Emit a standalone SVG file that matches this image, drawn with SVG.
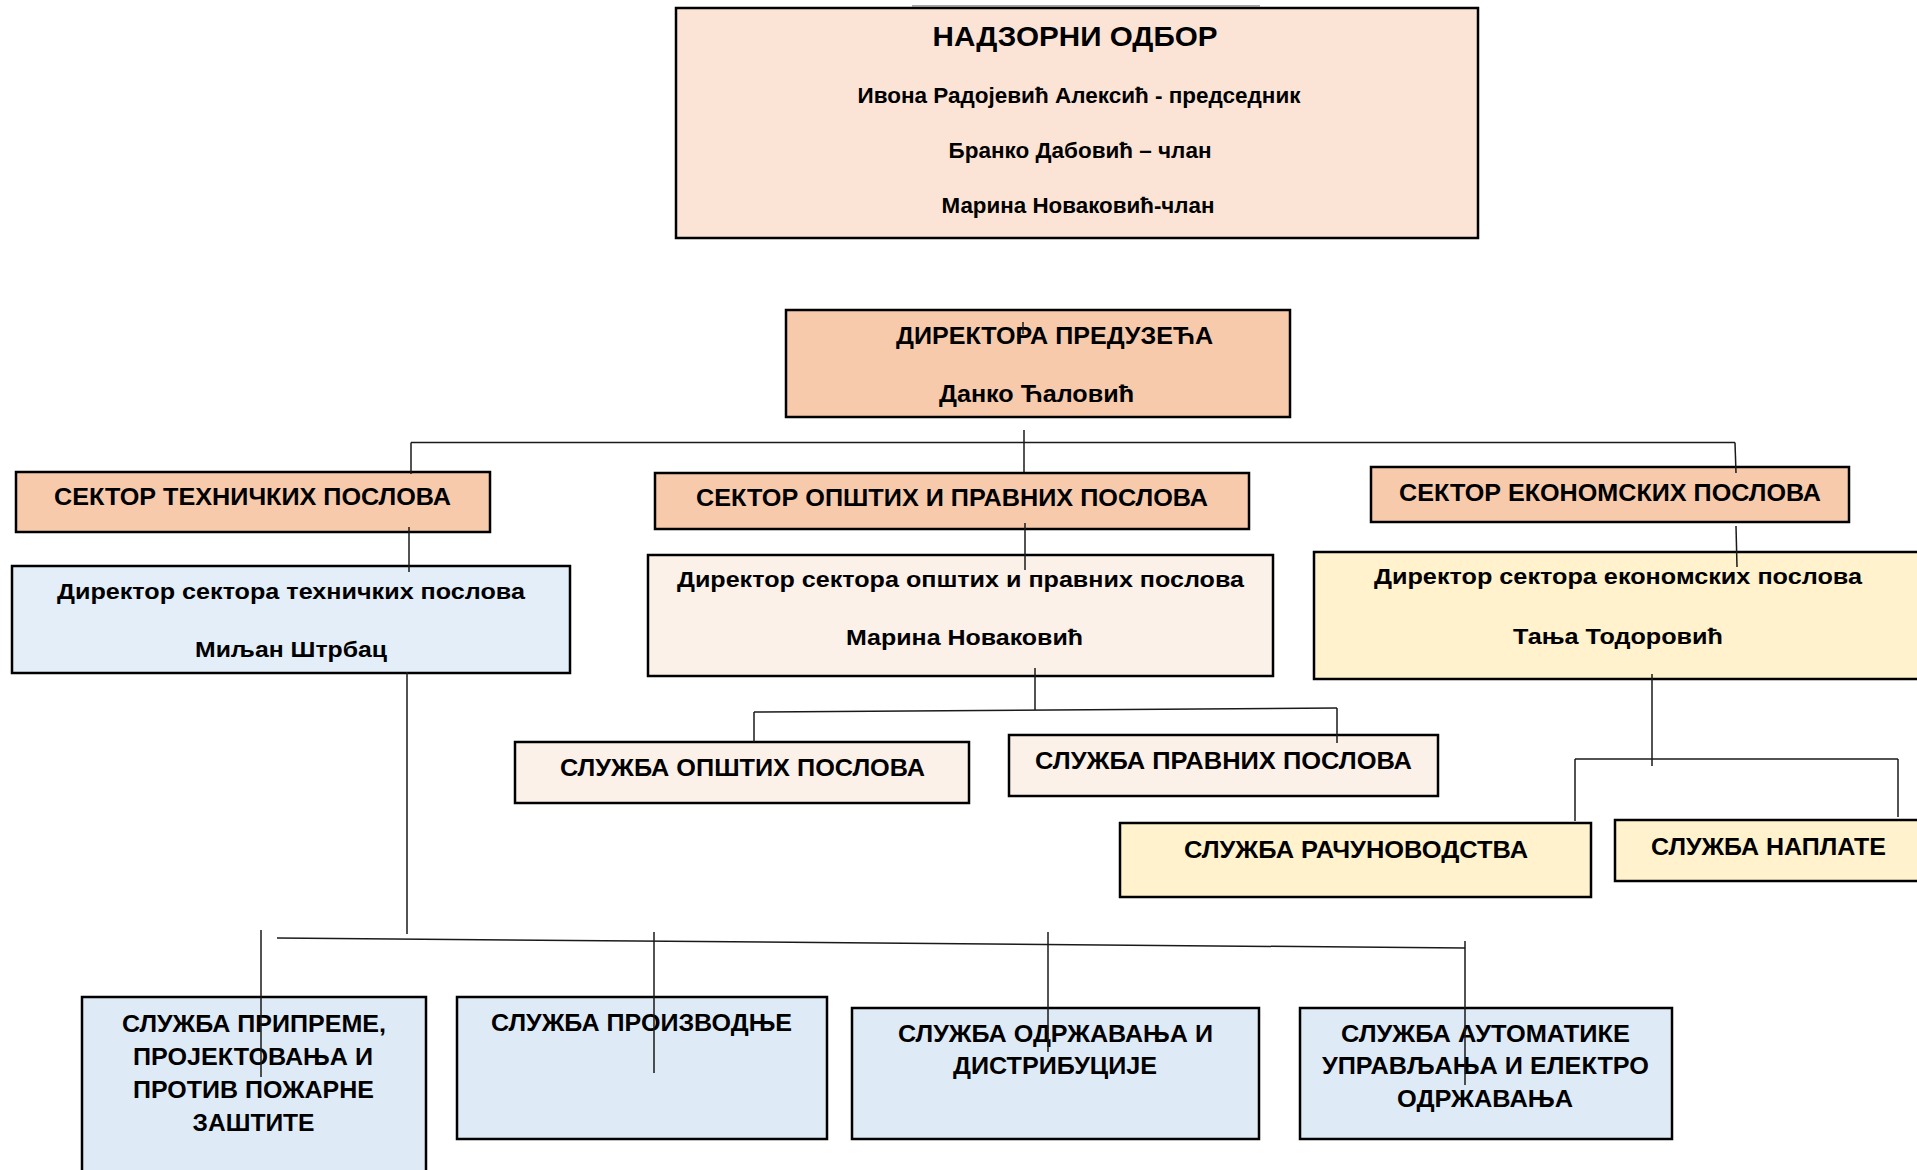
<svg xmlns="http://www.w3.org/2000/svg" width="1917" height="1170" viewBox="0 0 1917 1170">
<style>
.box{stroke:#000;stroke-width:2.5}
.peach{fill:#FBE4D5}
.orange{fill:#F7CAAC}
.blue1{fill:#E3EEF8}
.blue2{fill:#DEEAF6}
.cream{fill:#FCF1E9}
.yellow{fill:#FFF2CC}
text{font-family:"Liberation Sans Narrow","Liberation Sans",Arial,sans-serif;font-weight:bold;fill:#000;text-anchor:middle}
.t28{font-size:28px}
.t24{font-size:24px}
.t22{font-size:22.5px}
.t21{font-size:21.5px}
.conn path{fill:none;stroke:#1a1a1a;stroke-width:1.5}
</style>
<rect x="0" y="0" width="1917" height="1170" fill="#fff"/>

<g id="nadzorni-odbor">
<rect class="box peach" x="676" y="8" width="802" height="230"/>
<line x1="912" y1="6" x2="1260" y2="6" stroke="#888" stroke-width="1.5"/>
<text class="t28" x="1075" y="46" textLength="285" lengthAdjust="spacingAndGlyphs">НАДЗОРНИ ОДБОР</text>
<text class="t21" x="1079" y="103" textLength="443" lengthAdjust="spacingAndGlyphs">Ивона Радојевић Алексић - председник</text>
<text class="t21" x="1080" y="158" textLength="263" lengthAdjust="spacingAndGlyphs">Бранко Дабовић – члан</text>
<text class="t21" x="1078" y="213" textLength="273" lengthAdjust="spacingAndGlyphs">Марина Новаковић-члан</text>
</g>

<g id="direktor">
<rect class="box orange" x="786" y="310" width="504" height="107"/>
<text class="t24" x="1054.5" y="344" textLength="317" lengthAdjust="spacingAndGlyphs">ДИРЕКТОРА ПРЕДУЗЕЋА</text>
<text class="t24" x="1036.5" y="402" textLength="195" lengthAdjust="spacingAndGlyphs">Данко Ћаловић</text>
</g>

<g id="sektor-tehnickih">
<rect class="box orange" x="16" y="472" width="474" height="60"/>
<text class="t24" x="252.5" y="504.5" textLength="397" lengthAdjust="spacingAndGlyphs">СЕКТОР ТЕХНИЧКИХ ПОСЛОВА</text>
</g>

<g id="sektor-opstih">
<rect class="box orange" x="655" y="473" width="594" height="56"/>
<text class="t24" x="952" y="506" textLength="512" lengthAdjust="spacingAndGlyphs">СЕКТОР ОПШТИХ И ПРАВНИХ ПОСЛОВА</text>
</g>

<g id="sektor-ekonomskih">
<rect class="box orange" x="1371" y="467" width="478" height="55"/>
<text class="t24" x="1610" y="500.5" textLength="422" lengthAdjust="spacingAndGlyphs">СЕКТОР ЕКОНОМСКИХ ПОСЛОВА</text>
</g>

<g id="direktor-tehnickih">
<rect class="box blue1" x="12" y="566" width="558" height="107"/>
<text class="t22" x="291" y="599" textLength="468" lengthAdjust="spacingAndGlyphs">Директор сектора техничких послова</text>
<text class="t22" x="291" y="656.5" textLength="192" lengthAdjust="spacingAndGlyphs">Миљан Штрбац</text>
</g>

<g id="direktor-opstih">
<rect class="box cream" x="648" y="555" width="625" height="121"/>
<text class="t22" x="960.5" y="586.5" textLength="567" lengthAdjust="spacingAndGlyphs">Директор сектора општих и правних послова</text>
<text class="t22" x="964.5" y="644.5" textLength="237" lengthAdjust="spacingAndGlyphs">Марина Новаковић</text>
</g>

<g id="direktor-ekonomskih">
<rect class="box yellow" x="1314" y="552" width="620" height="127"/>
<text class="t22" x="1618" y="584" textLength="488" lengthAdjust="spacingAndGlyphs">Директор сектора економских послова</text>
<text class="t22" x="1618" y="643.5" textLength="210" lengthAdjust="spacingAndGlyphs">Тања Тодоровић</text>
</g>

<g id="sluzba-opstih">
<rect class="box cream" x="515" y="742" width="454" height="61"/>
<text class="t24" x="742.5" y="776" textLength="365" lengthAdjust="spacingAndGlyphs">СЛУЖБА ОПШТИХ ПОСЛОВА</text>
</g>

<g id="sluzba-pravnih">
<rect class="box cream" x="1009" y="735" width="429" height="61"/>
<text class="t24" x="1223.5" y="768.5" textLength="377" lengthAdjust="spacingAndGlyphs">СЛУЖБА ПРАВНИХ ПОСЛОВА</text>
</g>

<g id="sluzba-racunovodstva">
<rect class="box yellow" x="1120" y="823" width="471" height="74"/>
<text class="t24" x="1356" y="857.5" textLength="344" lengthAdjust="spacingAndGlyphs">СЛУЖБА РАЧУНОВОДСТВА</text>
</g>

<g id="sluzba-naplate">
<rect class="box yellow" x="1615" y="820" width="320" height="61"/>
<text class="t24" x="1768.5" y="854.5" textLength="235" lengthAdjust="spacingAndGlyphs">СЛУЖБА НАПЛАТЕ</text>
</g>

<g id="sluzba-pripreme">
<rect class="box blue2" x="82" y="997" width="344" height="190"/>
<text class="t24" x="254" y="1031.5" textLength="264" lengthAdjust="spacingAndGlyphs">СЛУЖБА ПРИПРЕМЕ,</text>
<text class="t24" x="253" y="1065" textLength="240" lengthAdjust="spacingAndGlyphs">ПРОЈЕКТОВАЊА И</text>
<text class="t24" x="253.5" y="1097.5" textLength="241" lengthAdjust="spacingAndGlyphs">ПРОТИВ ПОЖАРНЕ</text>
<text class="t24" x="253.5" y="1130.5" textLength="122" lengthAdjust="spacingAndGlyphs">ЗАШТИТЕ</text>
</g>

<g id="sluzba-proizvodnje">
<rect class="box blue2" x="457" y="997" width="370" height="142"/>
<text class="t24" x="641.5" y="1030.5" textLength="301" lengthAdjust="spacingAndGlyphs">СЛУЖБА ПРОИЗВОДЊЕ</text>
</g>

<g id="sluzba-odrzavanja">
<rect class="box blue2" x="852" y="1008" width="407" height="131"/>
<text class="t24" x="1055.5" y="1041.5" textLength="315" lengthAdjust="spacingAndGlyphs">СЛУЖБА ОДРЖАВАЊА И</text>
<text class="t24" x="1055" y="1073.5" textLength="204" lengthAdjust="spacingAndGlyphs">ДИСТРИБУЦИЈЕ</text>
</g>

<g id="sluzba-automatike">
<rect class="box blue2" x="1300" y="1008" width="372" height="131"/>
<text class="t24" x="1485.5" y="1041.5" textLength="289" lengthAdjust="spacingAndGlyphs">СЛУЖБА АУТОМАТИКЕ</text>
<text class="t24" x="1485.5" y="1073.5" textLength="327" lengthAdjust="spacingAndGlyphs">УПРАВЉАЊА И ЕЛЕКТРО</text>
<text class="t24" x="1485" y="1106.5" textLength="176" lengthAdjust="spacingAndGlyphs">ОДРЖАВАЊА</text>
</g>

<g id="connectors" class="conn">
<path d="M1023 322 V334"/>
<path d="M1024 430 V472"/>
<path d="M411 442.5 H1735" stroke="#555"/>
<path d="M411 442.5 V474"/>
<path d="M1735 442.5 L1736 473"/>
<path d="M409 527 V572"/>
<path d="M1025 523 V570"/>
<path d="M1736 526 L1737 567"/>
<path d="M1035 668 V710"/>
<path d="M754 712 L1337 708"/>
<path d="M754 712 V742"/>
<path d="M1337 708 V743"/>
<path d="M1652 674 V766"/>
<path d="M1575 759 H1898"/>
<path d="M1575 759 V821"/>
<path d="M1898 759 V817"/>
<path d="M407 672 V934"/>
<path d="M277 938 L1465 948"/>
<path d="M261 930 V1077"/>
<path d="M654 932 V1073"/>
<path d="M1048 932 V1052"/>
<path d="M1465 941 V1085"/>
</g>
</svg>
